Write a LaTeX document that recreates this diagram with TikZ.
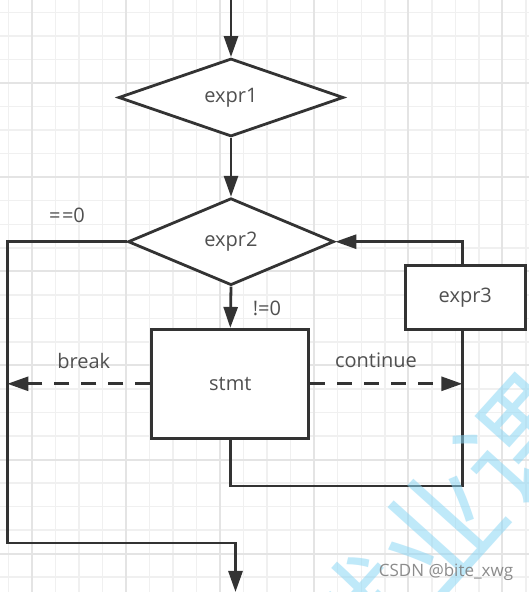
\documentclass[tikz,border=0pt]{standalone}
\usepackage{fontspec}
\setmainfont{Open Sans}
\newfontfamily\cjkfont{Noto Sans CJK SC}
\usetikzlibrary{shapes.geometric,arrows.meta}

\definecolor{linegray}{RGB}{51,51,51}
\definecolor{textgray}{RGB}{80,80,80}
\definecolor{gridminor}{RGB}{240,240,240}
\definecolor{gridmajor}{RGB}{228,228,228}
\definecolor{markblue}{RGB}{140,215,245}

\tikzset{
  flow/.style={draw=linegray, line width=2.8pt, fill=white, text=textgray, inner sep=0pt},
  test/.style={flow, diamond},
  block/.style={flow, rectangle},
  wire/.style={draw=linegray, line width=2.8pt},
  arrow/.style={wire, -{Triangle[length=21pt,width=14pt]}},
  dasharrow/.style={arrow, dash pattern=on 15pt off 12pt},
  lbl/.style={text=textgray}
}

\begin{document}
\begin{tikzpicture}[x=1pt, y=1pt, font=\fontsize{20}{24}\selectfont]
      \useasboundingbox (0,0) rectangle (529,592);
      \clip (0,0) rectangle (529,592);
      % Draw the paper grid
      \fill[white] (0,0) rectangle (529,592);
      \foreach \i in {0,...,22}
        \draw[gridminor, line width=1.5pt] ({8.3+23.53*\i},0) -- ++(0,592);
      \foreach \i in {0,...,24}
        \draw[gridminor, line width=1.5pt] (0,{579.5-23.53*\i}) -- ++(529,0);
      \foreach \i in {1,5,...,21}
        \draw[gridmajor, line width=2pt] ({8.3+23.53*\i},0) -- ++(0,592);
      \foreach \i in {3,7,...,23}
        \draw[gridmajor, line width=2pt] (0,{579.5-23.53*\i}) -- ++(529,0);
      % Draw the rails
      \coordinate (start) at (231,592);
      \coordinate (lx) at (7.4,0);
      \coordinate (rx) at (462.3,0);
      \coordinate (loop) at (0,106);
      \coordinate (exitrow) at (0,49);
      \coordinate (exit) at (235.5,0);
      % Draw the tests and blocks
      \node[test, minimum width=225pt, minimum height=78pt] (expr1) at (231,494.5) {expr1};
      \node[test, minimum width=206pt, minimum height=87pt] (expr2) at (231,350.3) {expr2};
      \node[block, minimum width=157pt, minimum height=109pt] (stmt) at (230.3,208.2) {stmt};
      \node[block, minimum width=120pt, minimum height=64pt] (expr3) at (465.3,294.8) {expr3};
      % Draw the flow
      \draw[arrow] (start) -- (expr1.north);
      \draw[arrow] (expr1.south) -- (expr2.north);
      \draw[arrow] (expr2.south) -- (stmt.north);
      \draw[arrow] (expr2.west) -| (lx |- exitrow) -| (exit);
      \draw[wire] (stmt.south) |- (rx |- loop) -- (expr3.south -| rx);
      \draw[arrow] (expr3.north -| rx) |- (expr2.east);
      \draw[dasharrow] (stmt.west) -- (stmt.west -| lx);
      \draw[dasharrow] (stmt.east) -- (stmt.east -| rx);
      % Draw the labels
      \node[lbl] (eqzero) at (67,377) {={\kern1.5pt}=0};
      \node[lbl] (nezero) at (267,284) {!=0};
      \node[lbl] (brk) at (83.7,231.3) {break};
      \node[lbl] (cont) at (376,231.3) {continue};
      % Draw the marks
      \node[text=markblue, text opacity=0.55, rotate=48, inner sep=0pt,
            font=\cjkfont\fontsize{120}{125}\selectfont] (stamp) at (360,-27) {比特就业课};
      \node[text=gray, text opacity=0.9, font=\fontsize{17}{20}\selectfont] (csdn) at (446,20.3) {CSDN @bite\_xwg};
    \end{tikzpicture}
\end{document}
